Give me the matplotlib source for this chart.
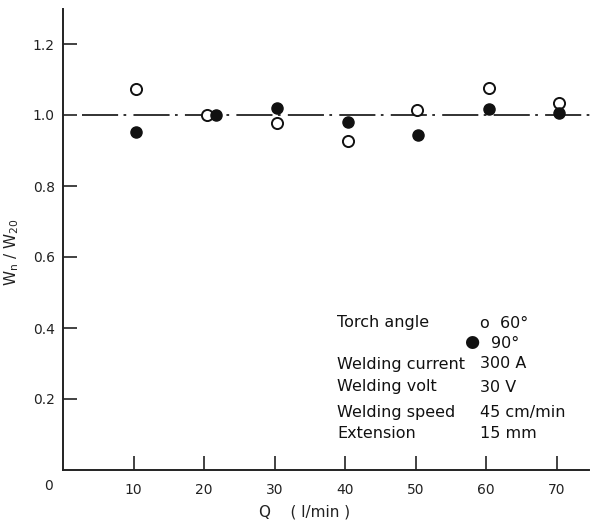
import matplotlib
matplotlib.use("Agg")
import matplotlib.pyplot as plt

# Data
q_open = [10.4, 20.4, 30.4, 40.4, 50.2, 60.4, 70.4]      # Torch angle 60°
w_open = [1.073, 1.000, 0.977, 0.927, 1.014, 1.076, 1.034]
q_fill = [10.4, 21.7, 30.4, 40.4, 50.3, 60.4, 70.4]      # Torch angle 90°
w_fill = [0.952, 1.000, 1.020, 0.980, 0.944, 1.017, 1.006]
ref_q = [2.7, 76.0]
ref_w = [1.0, 1.0]
xticks = [10, 20, 30, 40, 50, 60, 70]
yticks = [0.2, 0.4, 0.6, 0.8, 1.0, 1.2]

info_labels = ["Welding current", "Welding volt", "Welding speed", "Extension"]
info_values = ["300 A", "30 V", "45 cm/min", "15 mm"]

plt.rcParams['font.family'] = ['DejaVu Sans']
W, H = 595, 524
fig = plt.figure(figsize=(W / 100, H / 100), dpi=100)
ax = fig.add_axes([63 / W, (H - 470) / H, (589 - 63) / W, (470 - 9) / H])
ax.set_xlim(0, 74.6)
ax.set_ylim(0, 461 / 355)

for s in ['top', 'right']:
    ax.spines[s].set_visible(False)
for s in ['left', 'bottom']:
    ax.spines[s].set_linewidth(1.4)
    ax.spines[s].set_color('#222222')

ax.plot(ref_q, ref_w, color='#222222', lw=1.3, linestyle=(0, (20, 3, 1.5, 4)), clip_on=False)
ax.plot(q_open, w_open, 'o', ms=8, mfc='white', mec='#111111', mew=1.4, clip_on=False, zorder=3)
ax.plot(q_fill, w_fill, 'o', ms=8, mfc='#111111', mec='#111111', mew=1.0, clip_on=False, zorder=3)

ax.set_xticks(xticks)
ax.set_xticklabels([str(t) for t in xticks])
ax.set_yticks(yticks)
ax.set_yticklabels([f"{t:.1f}" for t in yticks])
ax.tick_params(direction='in', length=10, width=1.2, colors='#222222', labelsize=10, pad=6)
ax.tick_params(axis='x', pad=9)

ax.text(-1.5, -0.025, "0", ha='right', va='top', fontsize=10, color='#222222')

fig.text(12 / W, 1 - 252 / H, r"W$_{\rm n}$ / W$_{\rm 20}$", rotation=90, ha='center', va='center',
         fontsize=11, color='#222222')
fig.text(305 / W, 1 - 512 / H, "Q    ( l/min )", ha='center', va='center', fontsize=11, color='#222222')

fs = 11.5
col1 = 337 / W
col2 = 480 / W
fig.text(col1, 1 - 323 / H, "Torch angle", ha='left', va='center', fontsize=fs, color='#111111')
fig.text(col2, 1 - 323 / H, "o  60°", ha='left', va='center', fontsize=fs, color='#111111')
fig.text(col2 - 16 / W, 1 - 342 / H, "●", ha='left', va='center', fontsize=fs + 1, color='#111111')
fig.text(col2 + 11 / W, 1 - 343 / H, "90°", ha='left', va='center', fontsize=fs, color='#111111')
ys = [364, 387, 412, 434]
for lab, val, y in zip(info_labels, info_values, ys):
    fig.text(col1, 1 - y / H, lab, ha='left', va='center', fontsize=fs, color='#111111')
    fig.text(col2, 1 - y / H, val, ha='left', va='center', fontsize=fs, color='#111111')

fig.savefig("out.png", dpi=100)
